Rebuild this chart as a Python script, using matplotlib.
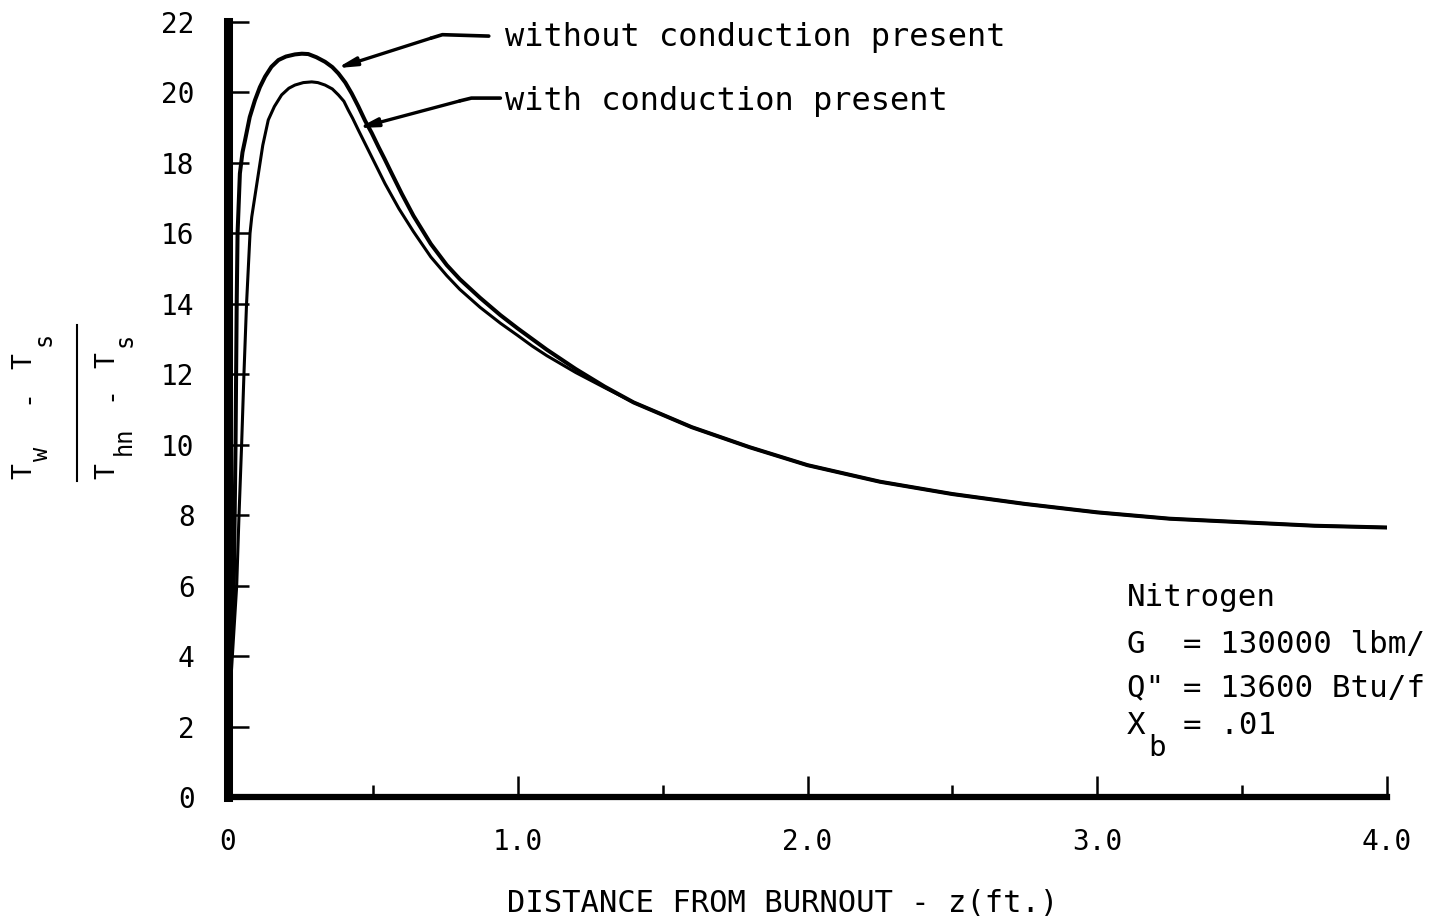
import matplotlib
matplotlib.use("Agg")
import matplotlib.pyplot as plt
from matplotlib.ticker import MultipleLocator, FixedLocator

plt.rcParams["font.family"] = ["DejaVu Sans Mono", "DejaVu Sans"]

# Distance from burnout z (ft) and dimensionless wall superheat (Tw-Ts)/(Thn-Ts)
z_without = [0.0, 0.020, 0.026, 0.030, 0.033, 0.041, 0.050, 0.059, 0.075, 0.093,
             0.110, 0.128, 0.150, 0.174, 0.200, 0.231, 0.255, 0.277, 0.305, 0.335,
             0.360, 0.381, 0.405, 0.427, 0.450, 0.473, 0.496, 0.519, 0.540, 0.565,
             0.600, 0.640, 0.700, 0.755, 0.800, 0.870, 0.940, 1.00, 1.05, 1.10,
             1.20, 1.30, 1.40, 1.50, 1.60, 1.80, 2.00, 2.25, 2.50, 2.75,
             3.00, 3.25, 3.50, 3.75, 4.00]
ratio_without = [2.0, 6.0, 10.0, 14.0, 16.0, 17.7, 18.3, 18.65, 19.3, 19.78,
                 20.15, 20.45, 20.73, 20.92, 21.02, 21.08, 21.1, 21.09, 21.0, 20.87,
                 20.72, 20.54, 20.28, 19.97, 19.6, 19.2, 18.85, 18.46, 18.12, 17.7,
                 17.12, 16.5, 15.7, 15.1, 14.7, 14.17, 13.68, 13.3, 13.0, 12.7,
                 12.15, 11.65, 11.2, 10.85, 10.5, 9.93, 9.42, 8.95, 8.6, 8.32,
                 8.08, 7.9, 7.8, 7.7, 7.65]

z_with = [0.0, 0.030, 0.038, 0.047, 0.055, 0.064, 0.076, 0.082, 0.105, 0.120,
          0.139, 0.160, 0.185, 0.210, 0.231, 0.260, 0.289, 0.310, 0.335, 0.360,
          0.381, 0.400, 0.415, 0.430, 0.450, 0.496, 0.542, 0.590, 0.640, 0.700,
          0.755, 0.800, 0.870, 0.940, 1.00, 1.05, 1.10, 1.20, 1.30, 1.40,
          1.50, 1.60, 1.80, 2.00, 2.25, 2.50, 2.75, 3.00, 3.25, 3.50,
          3.75, 4.00]
ratio_with = [2.0, 6.0, 8.0, 10.0, 12.0, 14.0, 16.0, 16.47, 17.7, 18.5,
              19.22, 19.6, 19.93, 20.12, 20.21, 20.28, 20.3, 20.28, 20.21, 20.1,
              19.93, 19.75, 19.5, 19.27, 18.93, 18.17, 17.41, 16.7, 16.05, 15.33,
              14.8, 14.41, 13.9, 13.45, 13.1, 12.8, 12.53, 12.05, 11.62, 11.2,
              10.85, 10.5, 9.93, 9.42, 8.95, 8.6, 8.32, 8.08, 7.9, 7.8,
              7.7, 7.65]

x_ticks = [0, 1.0, 2.0, 3.0, 4.0]
x_tick_labels = ["0", "1.0", "2.0", "3.0", "4.0"]
y_ticks = [0, 2, 4, 6, 8, 10, 12, 14, 16, 18, 20, 22]

W, H = 1429, 923
fig = plt.figure(figsize=(W / 100, H / 100), dpi=100)
ax = fig.add_axes([228 / W, 1 - 797 / H, (1387 - 228) / W, (797 - 22) / H])


def fx(px):
    return px / W


def fy(py):
    return 1 - py / H


ax.plot(z_without, ratio_without, color="black", lw=2.9,
        solid_capstyle="round", solid_joinstyle="round")
ax.plot(z_with, ratio_with, color="black", lw=2.2,
        solid_capstyle="round", solid_joinstyle="round")

ax.set_xlim(0, 4.0)
ax.set_ylim(0, 22)

for side in ("top", "right"):
    ax.spines[side].set_visible(False)
ax.spines["left"].set_linewidth(6.5)
ax.spines["bottom"].set_linewidth(4.5)
ax.spines["left"].set_capstyle("projecting")
ax.spines["bottom"].set_capstyle("projecting")

ax.xaxis.set_major_locator(FixedLocator(x_ticks))
ax.set_xticklabels(x_tick_labels)
ax.xaxis.set_minor_locator(MultipleLocator(0.5))
ax.yaxis.set_major_locator(FixedLocator(y_ticks))

ax.tick_params(axis="x", which="major", direction="in", length=15, width=1.8,
               pad=22, labelsize=20)
ax.tick_params(axis="x", which="minor", direction="in", length=9, width=1.8)
ax.tick_params(axis="y", which="major", direction="in", length=15, width=1.8,
               pad=24, labelsize=20)

# x-axis title
fig.text(fx(783), fy(903), "DISTANCE FROM BURNOUT - z(ft.)", fontsize=22,
         ha="center", va="center")

# y-axis title: (T_w - T_s) / (T_hn - T_s), written sideways
num_parts = [("T", 24, 471, 19), ("w", 41, 454, 17), ("-", 26, 396, 19),
             ("T", 24, 361, 19), ("s", 44, 339, 17)]
den_parts = [("T", 107, 471, 19), ("hn", 124, 441, 17), ("-", 109, 393, 19),
             ("T", 107, 360, 19), ("s", 125, 340, 17)]
for s, px, py, size in num_parts + den_parts:
    fig.text(fx(px), fy(py), s, fontsize=size, rotation=90,
             ha="center", va="center")
fig.add_artist(plt.Line2D([fx(77), fx(77)], [fy(325), fy(481)],
                          color="black", lw=1.5))

# Curve labels with leader arrows
arrow = dict(arrowstyle="-|>,head_length=1.1,head_width=0.25",
             color="black", lw=2.4, shrinkA=0, shrinkB=0)
ax.plot([0.70, 0.74, 0.90], [21.54, 21.64, 21.6], color="black", lw=2.6,
        solid_capstyle="round")
ax.annotate("", xy=(0.376, 20.69), xytext=(0.70, 21.54), arrowprops=arrow)
ax.text(0.955, 21.55, "without conduction present", fontsize=23,
        va="center", ha="left")

ax.plot([0.80, 0.84, 0.94], [19.76, 19.84, 19.84], color="black", lw=2.6,
        solid_capstyle="round")
ax.annotate("", xy=(0.449, 18.99), xytext=(0.80, 19.76), arrowprops=arrow)
ax.text(0.955, 19.75, "with conduction present", fontsize=23,
        va="center", ha="left")

# Run conditions
pitch = 22.2 * 100 / 72 * 0.602
fig.text(fx(1127), fy(597), "Nitrogen", fontsize=22.2, va="center", ha="left")
fig.text(fx(1127), fy(645), "G  = 130000 lbm/", fontsize=22.2, va="center", ha="left")
fig.text(fx(1127), fy(688), 'Q" = 13600 Btu/f', fontsize=22.2, va="center", ha="left")
fig.text(fx(1127), fy(726), "X", fontsize=22.2, va="center", ha="left")
fig.text(fx(1148), fy(748), "b", fontsize=21, va="center", ha="left")
fig.text(fx(1127 + 3 * pitch), fy(726), "= .01", fontsize=22.2, va="center", ha="left")

fig.savefig("out.png", dpi=100, facecolor="white")
